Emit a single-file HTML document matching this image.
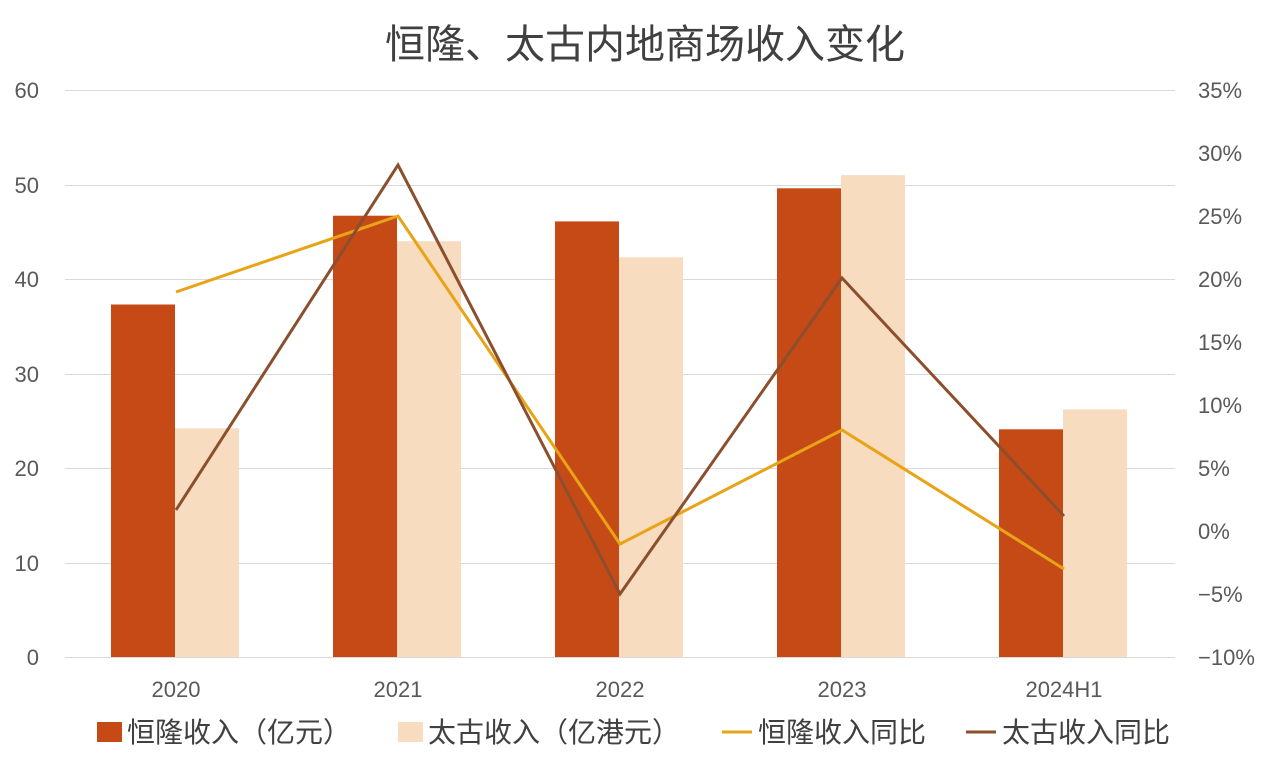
<!DOCTYPE html>
<html><head><meta charset="utf-8"><style>
html,body{margin:0;padding:0;background:#fff}
svg{display:block;font-family:"Liberation Sans","Noto Sans CJK SC",sans-serif}
</style></head><body>
<svg width="1270" height="761" viewBox="0 0 1270 761">
<rect width="1270" height="761" fill="#fff"/>
<text x="645" y="58" text-anchor="middle" font-size="40" fill="#404040">恒隆、太古内地商场收入变化</text>
<g stroke="#d9d9d9" stroke-width="1">
<line x1="65" x2="1175" y1="90.5" y2="90.5"/>
<line x1="65" x2="1175" y1="185.5" y2="185.5"/>
<line x1="65" x2="1175" y1="279.5" y2="279.5"/>
<line x1="65" x2="1175" y1="374.5" y2="374.5"/>
<line x1="65" x2="1175" y1="468.5" y2="468.5"/>
<line x1="65" x2="1175" y1="563.5" y2="563.5"/>
<line x1="65" x2="1175" y1="657.5" y2="657.5"/>
</g>
<g font-size="22" fill="#595959" text-anchor="end">
<text x="39" y="98">60</text><text x="39" y="193">50</text><text x="39" y="287">40</text>
<text x="39" y="382">30</text><text x="39" y="476">20</text><text x="39" y="571">10</text><text x="39" y="665">0</text>
</g>
<g font-size="22" fill="#595959" text-anchor="start">
<text x="1198" y="98">35%</text><text x="1198" y="161">30%</text><text x="1198" y="224">25%</text>
<text x="1198" y="287">20%</text><text x="1198" y="350">15%</text><text x="1198" y="413">10%</text>
<text x="1198" y="476">5%</text><text x="1198" y="539">0%</text><text x="1198" y="602">−5%</text><text x="1198" y="665">−10%</text>
</g>
<g fill="#C64A16">
<rect x="111" y="304.5" width="64" height="352.5"/>
<rect x="333" y="215.7" width="64" height="441.3"/>
<rect x="555" y="221.4" width="64" height="435.6"/>
<rect x="777" y="188.3" width="64" height="468.7"/>
<rect x="999" y="429.3" width="64" height="227.7"/>
</g>
<g fill="#F7DCC0">
<rect x="175" y="428.3" width="64" height="228.7"/>
<rect x="397" y="241.2" width="64" height="415.8"/>
<rect x="619" y="257.3" width="64" height="399.7"/>
<rect x="841" y="175.1" width="64" height="481.9"/>
<rect x="1063" y="409.4" width="64" height="247.6"/>
</g>
<polyline points="176,292 398,216 620,544 842,430 1064,569" fill="none" stroke="#E8A317" stroke-width="3"/>
<polyline points="176,510 398,165 620,594 842,278 1064,516" fill="none" stroke="#8B4F2E" stroke-width="3"/>
<g font-size="22" fill="#595959" text-anchor="middle">
<text x="176" y="697">2020</text><text x="398" y="697">2021</text><text x="620" y="697">2022</text>
<text x="842" y="697">2023</text><text x="1064" y="697">2024H1</text>
</g>
<g font-size="28" fill="#404040">
<rect x="97" y="722" width="25" height="20" fill="#C64A16"/><text x="127" y="742">恒隆收入（亿元）</text>
<rect x="398" y="722" width="25" height="20" fill="#F7DCC0"/><text x="428" y="742">太古收入（亿港元）</text>
<line x1="722" x2="752" y1="732" y2="732" stroke="#E8A317" stroke-width="3"/><text x="758" y="742">恒隆收入同比</text>
<line x1="966" x2="996" y1="732" y2="732" stroke="#8B4F2E" stroke-width="3"/><text x="1002" y="742">太古收入同比</text>
</g>
</svg>
</body></html>
